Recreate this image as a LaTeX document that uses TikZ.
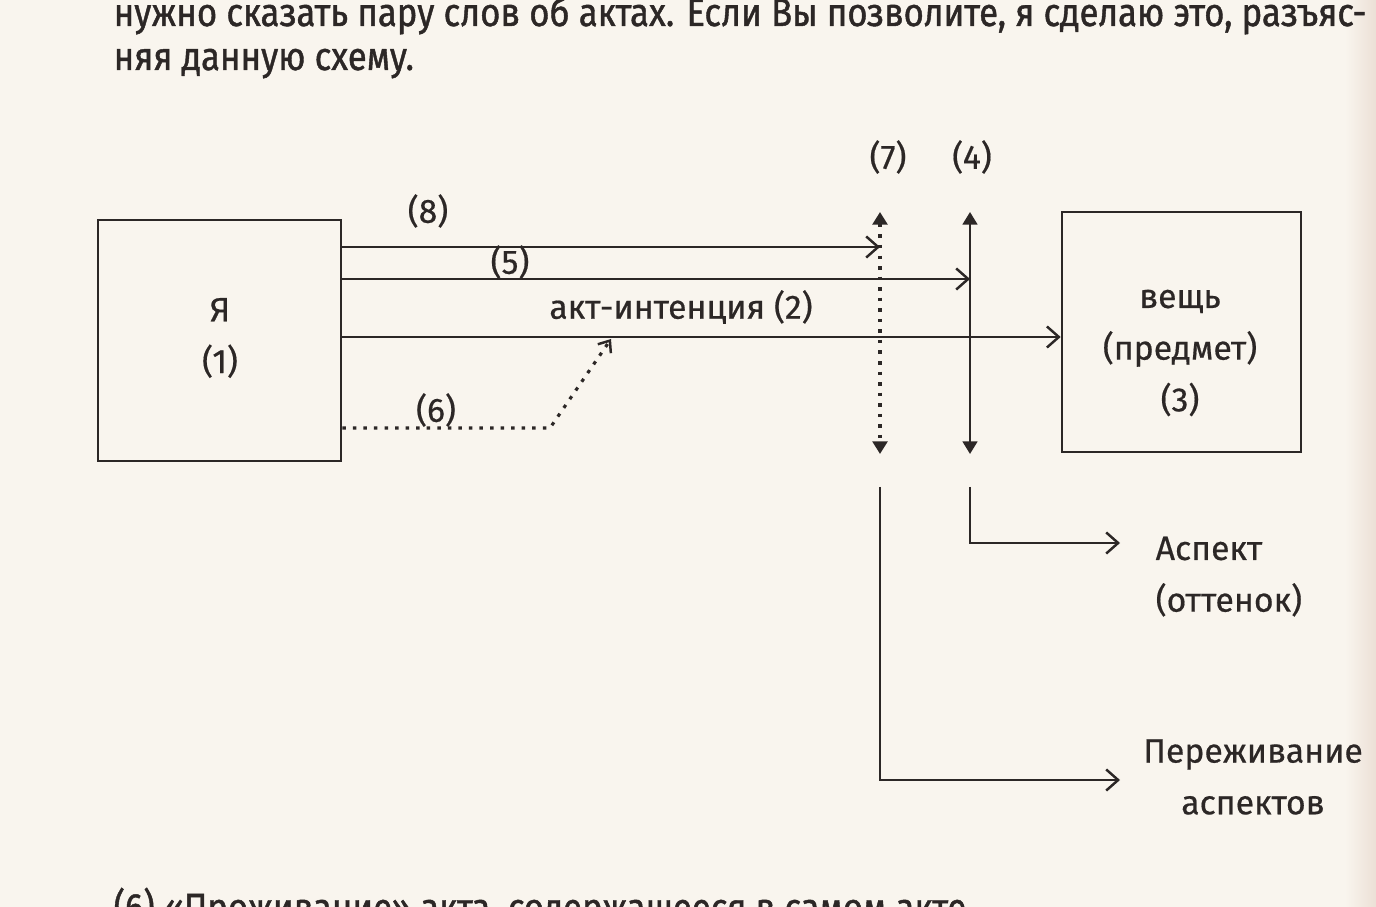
\documentclass[tikz,border=0pt]{standalone}
\usepackage{fontspec}
\usepackage{graphicx}
\setmainfont{Fira Sans}
\newfontfamily\lblfont[FakeBold=0.5]{Fira Sans}
\newfontfamily\bodyfont[FakeBold=1.2]{Fira Sans}
\usetikzlibrary{arrows.meta}
\definecolor{paper}{RGB}{249,245,238}
\definecolor{edge}{RGB}{236,224,214}
\definecolor{ink}{RGB}{44,39,38}
\tikzset{
  line/.style={draw=ink, line width=0.7pt},
  dotline/.style={draw=ink, line width=0.9pt, dash pattern=on 1pt off 2pt},
  openarr/.style={-{Straight Barb[length=3.4pt,width=6pt,line width=0.7pt]}},
  tri/.style={{Triangle[length=3.6pt,width=4.2pt]}-{Triangle[length=3.6pt,width=4.2pt]}},
  box/.style={draw=ink, line width=0.7pt, minimum width=2.43cm, minimum height=2.41cm, inner sep=0pt},
  lbl/.style={text=ink, inner sep=0pt, font=\lblfont\fontsize{9.6}{14.7}\selectfont},
  body/.style={text=ink, inner sep=0pt, anchor=base west, font=\bodyfont\fontsize{11.2}{13}\selectfont},
}
\begin{document}
\begin{tikzpicture}[x=0.01cm,y=-0.01cm]
\fill[paper] (0,0) rectangle (1376,907);
\shade[left color=paper, right color=edge] (1345,0) rectangle (1376,907);
\useasboundingbox (0,0) rectangle (1376,907);
\begin{scope}
\clip (0,0) rectangle (1376,907);
\node[body] (t1) at (113,26) {\resizebox{12.52cm}{\height}{нужно сказать пару слов об актах. Если Вы позволите, я сделаю это, разъяс-}};
\node[body] (t2) at (113,70) {\resizebox{3.0cm}{\height}{няя данную схему.}};
\node[body] (t3) at (113,921) {\resizebox{8.52cm}{\height}{(6) «Проживание» акта, содержащееся в самом акте}};
\end{scope}

% boxes
\node[box] (ego) at (219.5,340.5) {};
\node[lbl, align=center] (egot) at (220,338) {Я\\(1)};
\node[box, minimum width=2.39cm, minimum height=2.40cm] (thing) at (1181.5,332) {};
\node[lbl, align=center] (thingt) at (1180,353) {вещь\\(предмет)\\(3)};

% vertical lines
\coordinate (v7t) at (880,212);
\coordinate (v7b) at (880,454);
\coordinate (v4t) at (970,212);
\coordinate (v4b) at (970,454);
\draw[dotline, tri] (v7t) -- (v7b);
\draw[line, tri] (v4t) -- (v4b);
\node[lbl] (l7) at (888,157) {(7)};
\node[lbl] (l4) at (972,157) {(4)};

% horizontal arrows
\coordinate (e8) at (ego.east |- 0,247);
\coordinate (e5) at (ego.east |- 0,279);
\coordinate (e2) at (ego.east |- 0,337);
\coordinate (e6) at (ego.east |- 0,428);
\draw[line, openarr] (e8) -- (v7t |- e8);
\draw[line, openarr] (e5) -- (v4t |- e5);
\draw[line, openarr] (e2) -- (thing.west |- e2);
\node[lbl] (l8) at (428,211) {(8)};
\node[lbl] (l5) at (510,262) {(5)};
\node[lbl] (l2) at (681,307) {акт-интенция (2)};

% dotted (6)
\coordinate (c6) at (550,428);
\coordinate (t6) at (611,339);
\draw[dotline, -{Straight Barb[length=2.8pt,width=4.5pt,line width=0.7pt]}] (e6) -- (c6) -- (t6);
\node[lbl] (l6) at (436,410) {(6)};

% lower branches
\coordinate (b7) at (880,487);
\coordinate (b4) at (970,487);
\coordinate (r4) at (1120,543);
\coordinate (r7) at (1120,780);
\draw[line, openarr] (b4) |- (r4);
\draw[line, openarr] (b7) |- (r7);
\node[lbl, align=left, anchor=north west] (asp) at (1155,536) {Аспект\\(оттенок)};
\node[lbl, align=center] (exp) at (1253,777) {Переживание\\аспектов};
\end{tikzpicture}
\end{document}
